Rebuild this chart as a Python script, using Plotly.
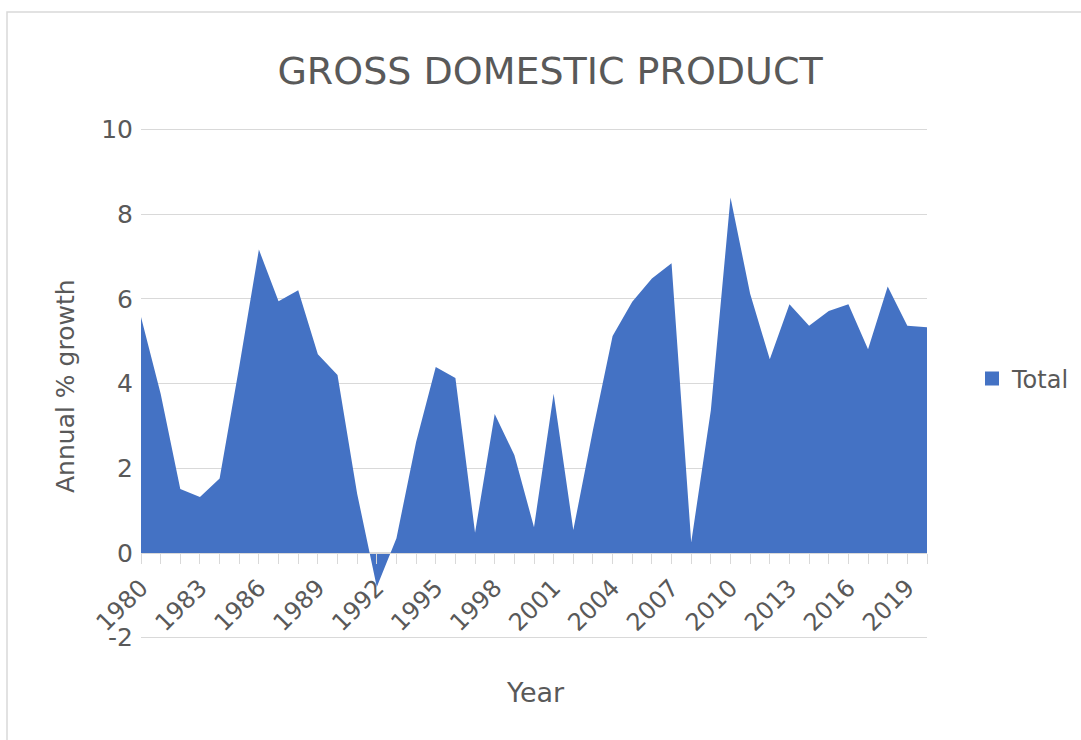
import plotly.graph_objects as go

# Annual GDP growth, 1980-2020
years = list(range(1980, 2021))
growth = [
    5.57, 3.76, 1.51, 1.32, 1.76, 4.40, 7.16, 5.94, 6.20, 4.69,
    4.20, 1.40, -0.80, 0.35, 2.62, 4.39, 4.13, 0.48, 3.28, 2.31,
    0.61, 3.76, 0.54, 2.90, 5.12, 5.93, 6.48, 6.84, 0.25, 3.37,
    8.39, 6.12, 4.57, 5.87, 5.36, 5.71, 5.87, 4.81, 6.29, 5.36,
    5.33,
]
label_years = [y for y in years if (y - 1980) % 3 == 0]
y_ticks = [-2, 0, 2, 4, 6, 8, 10]
y_tick_text = ["-2", "0", "2", "4", "6", "8", "10"]

FONT = "DejaVu Sans"
TEXT = "#595959"
GRID = "#d9d9d9"
FILL = "#4472C4"

fig = go.Figure()
fig.add_trace(go.Scatter(
    x=years, y=growth, name="Total", mode="lines",
    fill="tozeroy", fillcolor=FILL,
    line=dict(width=0, color=FILL),
    showlegend=False,
))
# square legend swatch for the area series
fig.add_trace(go.Scatter(
    x=[None], y=[None], name="Total", mode="markers",
    marker=dict(symbol="square", size=14, color=FILL),
    showlegend=True,
))

pad = 0.03
y_min, y_max = -2 - pad, 10 + pad
zero_pos = (0 - y_min) / (y_max - y_min)

# pixel geometry of the plot area
L, R, T, B = 141, 927, 128, 639
W, H = R - L, B - T


def px_x(x):
    return (x - L) / W


def px_y(y):
    return (B - y) / H


fig.update_layout(
    width=1081, height=740,
    margin=dict(l=L, r=1081 - R, t=T, b=740 - B, autoexpand=False),
    paper_bgcolor="white", plot_bgcolor="white",
    font=dict(family=FONT, color=TEXT, size=24),
    title=dict(text="GROSS DOMESTIC PRODUCT", x=550 / 1081, y=1 - 71 / 740,
               xanchor="center", yanchor="middle", xref="container", yref="container",
               font=dict(size=38, color=TEXT, family=FONT)),
    xaxis=dict(
        range=[1980, 2020], anchor="free", position=zero_pos,
        tickmode="array", tickvals=years,
        ticktext=[str(y) if y in label_years else "" for y in years],
        tickangle=-45, ticks="outside", ticklen=10, tickcolor=GRID, tickwidth=1.3,
        showline=True, linecolor=GRID, linewidth=1.3,
        showgrid=False, zeroline=False,
        tickfont=dict(size=24, color=TEXT, family=FONT),
    ),
    yaxis=dict(
        range=[y_min, y_max], tickmode="array", tickvals=y_ticks, ticktext=y_tick_text,
        showgrid=True, gridcolor=GRID, gridwidth=1.3,
        zeroline=False, showline=False,
        ticks="outside", ticklen=2, tickcolor="rgba(0,0,0,0)",
        tickfont=dict(size=25, color=TEXT, family=FONT),
    ),
    legend=dict(x=px_x(972), y=px_y(379), xanchor="left", yanchor="middle",
                font=dict(size=24, color=TEXT, family=FONT), bgcolor="rgba(0,0,0,0)",
                itemwidth=30, tracegroupgap=0),
    annotations=[
        dict(text="Annual % growth", xref="paper", yref="paper",
             x=px_x(65), y=px_y(386), textangle=-90,
             showarrow=False, xanchor="center", yanchor="middle",
             font=dict(size=25, color=TEXT, family=FONT)),
        dict(text="Year", xref="paper", yref="paper",
             x=px_x(535), y=px_y(692),
             showarrow=False, xanchor="center", yanchor="middle",
             font=dict(size=27, color=TEXT, family=FONT)),
    ],
    shapes=[
        dict(type="rect", xref="paper", yref="paper",
             x0=px_x(7), x1=px_x(1100), y0=px_y(760), y1=px_y(12),
             line=dict(color=GRID, width=1.5), fillcolor="rgba(0,0,0,0)", layer="below"),
    ],
)

fig.write_html("out.html")
